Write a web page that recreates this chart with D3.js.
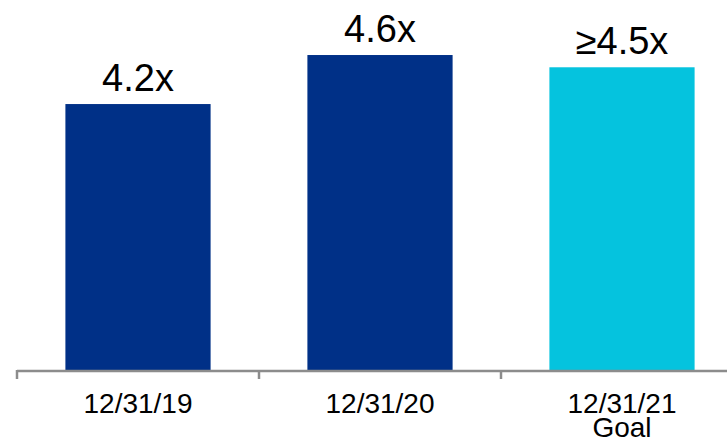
<!DOCTYPE html>
<meta charset="utf-8">
<script src="https://cdn.jsdelivr.net/npm/d3@7"></script>
<style>
  body { margin: 0; background: #fff; }
  text { font-family: "Liberation Sans", Arial, sans-serif; fill: #000; }
</style>
<div id="chart"></div>
<script>

// data
var dates = ["12/31/19", "12/31/20", "12/31/21"];
var subLabels = ["", "", "Goal"];
var values = [4.2, 4.6, 4.5];
var valueLabels = ["4.2x", "4.6x", "\u22654.5x"];
var barColors = ["#003087", "#003087", "#05C3DE"];

var width = 727, height = 445;
var baseline = 370;

var svg = d3.select("#chart")
  .append("svg")
    .attr("width", width)
    .attr("height", height);

// three bands of equal width, the last one runs past the right edge
var x = d3.scaleBand()
  .domain(dates)
  .range([17, 743])
  .paddingInner(0.4)
  .paddingOuter(0.2);

// axis does not start at zero
var y = d3.scaleLinear()
  .domain([2.03, 5])
  .range([baseline, 6]);

// bars
svg.selectAll(".bar")
  .data(dates)
  .enter()
  .append("rect")
    .attr("class", "bar")
    .attr("x", function(d) { return x(d); })
    .attr("y", function(d, i) { return y(values[i]); })
    .attr("width", x.bandwidth())
    .attr("height", function(d, i) { return baseline - y(values[i]); })
    .style("fill", function(d, i) { return barColors[i]; });

// value labels
svg.selectAll(".val")
  .data(dates)
  .enter()
  .append("text")
    .attr("class", "val")
    .attr("x", function(d) { return x(d) + x.bandwidth() / 2; })
    .attr("y", function(d, i) { return y(values[i]) - 13; })
    .attr("text-anchor", "middle")
    .style("font-size", "38px")
    .text(function(d, i) { return valueLabels[i]; });

// x axis: line plus ticks at band edges
var axis = svg.append("g").attr("class", "x axis");
axis.append("line")
  .attr("x1", 17).attr("x2", width)
  .attr("y1", baseline + 1).attr("y2", baseline + 1)
  .style("stroke", "#8c8c8c")
  .style("stroke-width", 2.5);

var edges = dates.map(function(d) { return x(d) - x.step() * x.paddingInner() / 2; });
edges[0] = x.range()[0];
axis.selectAll(".tick")
  .data(edges)
  .enter()
  .append("line")
    .attr("x1", function(d) { return d; })
    .attr("x2", function(d) { return d; })
    .attr("y1", baseline)
    .attr("y2", baseline + 9)
    .style("stroke", "#8c8c8c")
    .style("stroke-width", 2.5);

// category labels
var cat = svg.selectAll(".cat")
  .data(dates)
  .enter()
  .append("text")
    .attr("class", "cat")
    .attr("x", function(d) { return x(d) + x.bandwidth() / 2; })
    .attr("y", 413)
    .attr("text-anchor", "middle")
    .style("font-size", "28px");

cat.append("tspan")
  .attr("x", function(d) { return x(d) + x.bandwidth() / 2; })
  .text(function(d) { return d; });

cat.append("tspan")
  .attr("x", function(d) { return x(d) + x.bandwidth() / 2; })
  .attr("dy", 24)
  .text(function(d, i) { return subLabels[i]; });

</script>
